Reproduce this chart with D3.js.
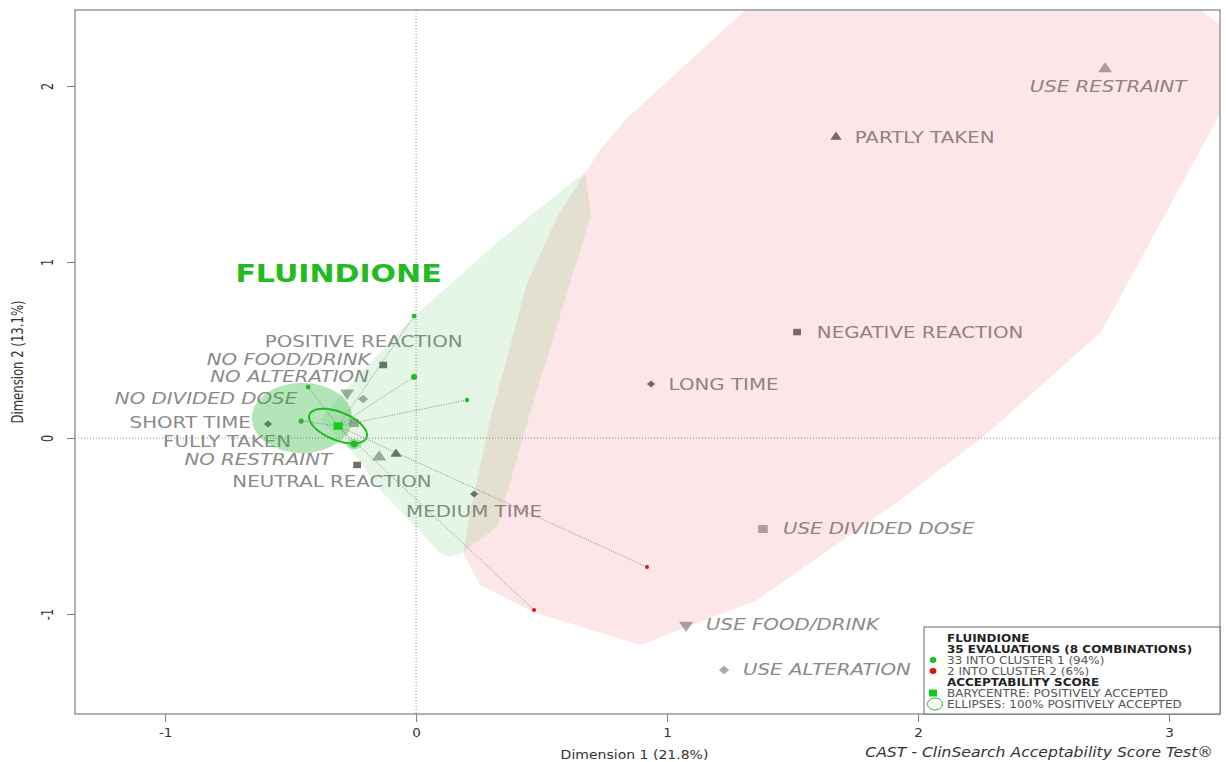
<!DOCTYPE html>
<html>
<head>
<meta charset="utf-8">
<style>
body { margin: 0; background: #fff; }
.lbl { font-family: "DejaVu Sans", sans-serif; font-size: 16.5px; fill: #8a8a8a; }
.axis text { font-family: "DejaVu Sans Condensed", "DejaVu Sans", sans-serif; font-stretch: condensed; font-size: 12.5px; fill: #333; }
.axis line { stroke: #7f7f7f; }
.axis path { display: none; }
.zero { stroke: #8c8c8c; stroke-width: 1; stroke-dasharray: 1,2; }
.link { stroke: #6a6a6a; stroke-width: 0.8; stroke-dasharray: 1,1.5; fill: none; }
.legend text { font-family: "DejaVu Sans", sans-serif; font-size: 10px; fill: #555; }
.legend text.b { font-weight: bold; fill: #222; }
</style>
</head>
<body>
<svg width="1226" height="762"></svg>
<script src="https://d3js.org/d3.v7.min.js"></script>
<script>

// axes
var xDomain = [-1.359, 3.203],
    yDomain = [-1.568, 2.432],
    xTicks = [-1, 0, 1, 2, 3],
    yTicks = [-1, 0, 1, 2];

// category points (modalities)
var modalities = ["USE RESTRAINT", "PARTLY TAKEN", "NEGATIVE REACTION", "LONG TIME", "MEDIUM TIME",
    "USE DIVIDED DOSE", "USE FOOD/DRINK", "USE ALTERATION", "POSITIVE REACTION", "NO FOOD/DRINK",
    "NO ALTERATION", "NO DIVIDED DOSE", "SHORT TIME", "FULLY TAKEN", "NO RESTRAINT", "NEUTRAL REACTION"];
var variables = ["restraint", "taken", "reaction", "time", "time",
    "divided", "food", "alteration", "reaction", "food",
    "alteration", "divided", "time", "taken", "restraint", "reaction"];
var supplementary = [true, false, false, false, false, true, true, true, false, true, true, true, false, false, true, false];
var dim1 = [2.745, 1.673, 1.518, 0.936, 0.231, 1.382, 1.076, 1.227, -0.131, -0.275, -0.211, -0.247, -0.590, -0.080, -0.147, -0.235];
var dim2 = [2.097, 1.710, 0.602, 0.307, -0.318, -0.517, -1.063, -1.318, 0.415, 0.256, 0.222, 0.085, 0.080, -0.091, -0.108, -0.153];
var labelDim1 = [2.757, 2.026, 2.008, 1.225, 0.231, 1.843, 1.500, 1.637, -0.209, -0.508, -0.504, -0.837, -0.900, -0.753, -0.629, -0.335];
var labelDim2 = [2.000, 1.710, 0.602, 0.307, -0.415, -0.511, -1.057, -1.312, 0.551, 0.449, 0.352, 0.227, 0.091, -0.019, -0.118, -0.244];

// evaluations (8 combinations)
var evalDim1 = [-0.008, -0.008, 0.203, -0.430, -0.458, -0.247, 0.920, 0.470];
var evalDim2 = [0.693, 0.347, 0.216, 0.290, 0.097, -0.034, -0.733, -0.977];
var evalCluster = [1, 1, 1, 1, 1, 1, 2, 2];
var evalCount = [3, 8, 2, 3, 4, 13, 1, 1];

// cluster hulls
var hull1 = [[0.673, 1.511], [0.697, 1.267], [0.446, 0.102], [0.323, -0.506], [0.183, -0.653], [0.135, -0.676],
    [0.096, -0.653], [-0.143, -0.295], [-0.243, -0.097], [-0.382, 0.102], [-0.283, 0.273], [-0.012, 0.688], [0.335, 1.125]];
var hull2 = [[0.833, 1.807], [1.442, 2.602], [3.064, 2.500], [3.339, 2.199], [2.729, 0.602], [2.263, 0.011],
    [1.928, -0.352], [1.359, -0.920], [0.893, -1.176], [0.466, -0.989], [0.255, -0.835], [0.187, -0.653],
    [0.223, -0.369], [0.295, 0.102], [0.442, 0.881], [0.562, 1.256], [0.681, 1.523], [0.733, 1.636]];

// barycentre, confidence ellipse, density disks
var barycentre = [-0.311, 0.068];
var ellipseAxis1 = [0.1135, -0.0653],
    ellipseAxis2 = [-0.0209, -0.0738];
var diskCentres = [[-0.454, 0.114], [-0.247, -0.034]];
var diskRadius = [0.2, 0.03];

var drugName = "FLUINDIONE",
    drugLabelPos = [-0.309, 0.94];

var legendLines = ["FLUINDIONE", "35 EVALUATIONS (8 COMBINATIONS)", "33 INTO CLUSTER 1 (94%)", "2 INTO CLUSTER 2 (6%)",
    "ACCEPTABILITY SCORE", "BARYCENTRE: POSITIVELY ACCEPTED", "ELLIPSES: 100% POSITIVELY ACCEPTED"];
var legendKeys = ["", "", "dot1", "dot2", "", "square", "ring"];

var green = "#22bb22", red = "#e01010";
var sx = "scale(1.2,1)";

var svg = d3.select("svg"),
    margin = {top: 10, right: 6, bottom: 48, left: 75},
    width = +svg.attr("width") - margin.left - margin.right,
    height = +svg.attr("height") - margin.top - margin.bottom;

var g = svg.append("g").attr("transform", "translate(" + margin.left + "," + margin.top + ")");

var x = d3.scaleLinear().domain(xDomain).range([0, width]);
var y = d3.scaleLinear().domain(yDomain).range([height, 0]);

svg.append("defs").append("clipPath").attr("id", "plotclip")
  .append("rect").attr("width", width).attr("height", height);

// axes
var xAxisG = g.append("g").attr("class", "axis").attr("transform", "translate(0," + height + ")")
  .call(d3.axisBottom(x).tickValues(xTicks).tickSize(8).tickFormat(String));
xAxisG.selectAll("text").attr("y", 19).attr("dy", "0.35em").attr("transform", sx);

var yAxisG = g.append("g").attr("class", "axis")
  .call(d3.axisLeft(y).tickValues(yTicks).tickSize(8).tickFormat(String));
yAxisG.selectAll("text").attr("x", 0).attr("dy", "0.35em").attr("text-anchor", "middle")
  .attr("transform", "translate(-27,0) " + sx + " rotate(-90)");

svg.append("text")
  .attr("transform", "translate(" + (margin.left + width / 2 - 13) + ",754) " + sx)
  .attr("text-anchor", "middle").attr("dy", "0.35em")
  .style("font-family", "'DejaVu Sans Condensed', 'DejaVu Sans'").style("font-stretch", "condensed")
  .style("font-size", "13px").style("fill", "#333")
  .text("Dimension 1 (21.8%)");

svg.append("text")
  .attr("transform", "translate(18," + (margin.top + height / 2) + ") " + sx + " rotate(-90)")
  .attr("text-anchor", "middle").attr("dy", "0.35em")
  .style("font-family", "'DejaVu Sans Condensed', 'DejaVu Sans'").style("font-stretch", "condensed")
  .style("font-size", "13px").style("fill", "#333")
  .text("Dimension 2 (13.1%)");

svg.append("text")
  .attr("transform", "translate(1213,752) " + sx)
  .attr("text-anchor", "end").attr("dy", "0.35em")
  .style("font-family", "'DejaVu Sans Condensed', 'DejaVu Sans'").style("font-stretch", "condensed")
  .style("font-style", "italic").style("font-size", "14.5px").style("fill", "#333")
  .text("CAST - ClinSearch Acceptability Score Test\u00ae");

var plot = g.append("g").attr("clip-path", "url(#plotclip)");

// zero lines
plot.append("line").attr("class", "zero").attr("x1", 0).attr("x2", width).attr("y1", y(0)).attr("y2", y(0));
plot.append("line").attr("class", "zero").attr("x1", x(0)).attr("x2", x(0)).attr("y1", 0).attr("y2", height);

// modality markers
function shapeOf(v) {
  if (v === "taken" || v === "restraint" || v === "food") return d3.symbolTriangle;
  return d3.symbolSquare; // squares, and diamonds as rotated squares
}
function rotOf(v) {
  if (v === "food") return 180;
  if (v === "time" || v === "alteration") return 45;
  return 0;
}
function sizeOf(v, supp) {
  var base = (v === "time" || v === "alteration") ? 24 : (v === "reaction" || v === "divided") ? 42 : 40;
  return supp ? base * 1.5 : base;
}

var idx = d3.range(modalities.length);

plot.append("g").selectAll("path").data(idx).enter().append("path")
  .attr("d", function(i) { return d3.symbol().type(shapeOf(variables[i])).size(sizeOf(variables[i], supplementary[i]))(); })
  .attr("transform", function(i) {
    return "translate(" + x(dim1[i]) + "," + y(dim2[i]) + ") " + sx + " rotate(" + rotOf(variables[i]) + ")";
  })
  .style("fill", function(i) { return supplementary[i] ? "#a9a9a9" : "#6e6e6e"; });

plot.append("g").selectAll("text").data(idx).enter().append("text")
  .attr("class", "lbl")
  .attr("transform", function(i) { return "translate(" + x(labelDim1[i]) + "," + y(labelDim2[i]) + ") " + sx; })
  .attr("text-anchor", "middle").attr("dy", "0.36em")
  .style("font-style", function(i) { return supplementary[i] ? "italic" : "normal"; })
  .text(function(i) { return modalities[i]; });

// drug name
plot.append("text")
  .attr("transform", "translate(" + x(drugLabelPos[0]) + "," + y(drugLabelPos[1]) + ") " + sx)
  .attr("text-anchor", "middle").attr("dy", "0.36em")
  .style("font-family", "'DejaVu Sans', sans-serif").style("font-weight", "bold")
  .style("font-size", "25px").style("fill", green)
  .text(drugName);

// hulls
var line = d3.line().x(function(d) { return x(d[0]); }).y(function(d) { return y(d[1]); }).curve(d3.curveLinearClosed);

plot.append("path").attr("d", line(hull2))
  .style("fill", "rgb(238,47,63)").style("fill-opacity", 0.12);
plot.append("path").attr("d", line(hull1))
  .style("fill", "rgb(38,180,55)").style("fill-opacity", 0.12);

// disks
plot.append("g").selectAll("ellipse").data(diskCentres).enter().append("ellipse")
  .attr("cx", function(d) { return x(d[0]); })
  .attr("cy", function(d) { return y(d[1]); })
  .attr("rx", function(d, i) { return x(diskRadius[i]) - x(0); })
  .attr("ry", function(d, i) { return y(0) - y(diskRadius[i]); })
  .style("fill", "rgb(38,180,55)").style("fill-opacity", 0.35);

// links from barycentre to evaluations
var eidx = d3.range(evalDim1.length);
plot.append("g").selectAll("line").data(eidx).enter().append("line")
  .attr("class", "link")
  .attr("x1", x(barycentre[0])).attr("y1", y(barycentre[1]))
  .attr("x2", function(i) { return x(evalDim1[i]); })
  .attr("y2", function(i) { return y(evalDim2[i]); });

// confidence ellipse
var ellipsePts = d3.range(0, 361, 5).map(function(a) {
  var t = a * Math.PI / 180;
  return [barycentre[0] + Math.cos(t) * ellipseAxis1[0] + Math.sin(t) * ellipseAxis2[0],
          barycentre[1] + Math.cos(t) * ellipseAxis1[1] + Math.sin(t) * ellipseAxis2[1]];
});
plot.append("path").attr("d", line(ellipsePts))
  .style("fill", "none").style("stroke", green).style("stroke-width", 2);

// evaluation dots
var r = d3.scaleSqrt().domain([1, 13]).range([2, 3.5]);
plot.append("g").selectAll("circle").data(eidx).enter().append("circle")
  .attr("cx", function(i) { return x(evalDim1[i]); })
  .attr("cy", function(i) { return y(evalDim2[i]); })
  .attr("r", function(i) { return r(evalCount[i]); })
  .style("fill", function(i) { return evalCluster[i] === 1 ? green : red; });

// barycentre
plot.append("path")
  .attr("d", d3.symbol().type(d3.symbolSquare).size(56)())
  .attr("transform", "translate(" + x(barycentre[0]) + "," + y(barycentre[1]) + ") " + sx)
  .style("fill", "#11cc11");

// frame
g.append("rect").attr("width", width).attr("height", height)
  .style("fill", "none").style("stroke", "#7f7f7f").style("stroke-width", 1.2);

// legend
var legend = svg.append("g").attr("class", "legend");
legend.append("rect").attr("x", 924).attr("y", 627).attr("width", 1220 - 924).attr("height", 714 - 627)
  .style("fill", "#fff").style("stroke", "#666").style("stroke-width", 1);

legendLines.forEach(function(t, i) {
  var ly = 638 + i * 11;
  var bold = legendKeys[i] === "";
  legend.append("text").attr("class", bold ? "b" : null)
    .attr("transform", "translate(947," + ly + ") " + sx).attr("dy", "0.36em")
    .text(t);
  var k = legendKeys[i];
  if (k === "dot1" || k === "dot2") {
    legend.append("ellipse").attr("cx", 933).attr("cy", ly).attr("rx", 3.4).attr("ry", 3)
      .style("fill", k === "dot1" ? green : red);
  } else if (k === "square") {
    legend.append("rect").attr("x", 929).attr("y", ly - 3.5).attr("width", 8).attr("height", 7).style("fill", "#11cc11");
  } else if (k === "ring") {
    legend.append("ellipse").attr("cx", 935).attr("cy", ly).attr("rx", 7.5).attr("ry", 6)
      .style("fill", "none").style("stroke", green).style("stroke-width", 1);
  }
});

</script>
</body>
</html>
